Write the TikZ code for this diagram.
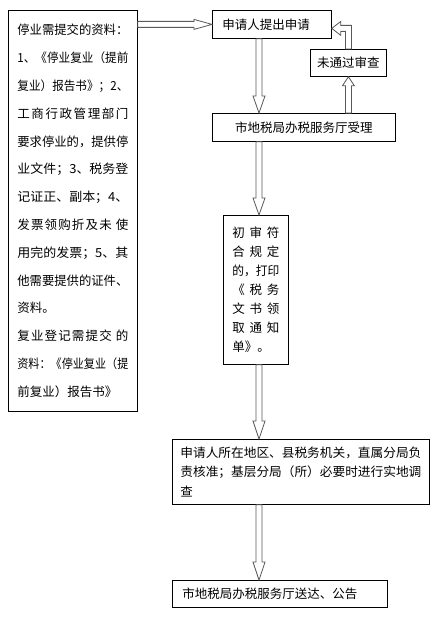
\documentclass[tikz,border=0pt]{standalone}
\usepackage{fontspec}
\usepackage{graphicx}
\newfontfamily\cjk{Noto Sans CJK SC}
\usetikzlibrary{calc}
\newcommand{\fitw}[2]{\resizebox{#1}{\height}{#2}}
\begin{document}
\begin{tikzpicture}[x=1pt,y=-1pt,
  box/.style={draw=black, line width=0.8pt, inner sep=0pt, font=\cjk\fontsize{12.5}{15}\selectfont},
  arrowbox/.style={draw=gray!70!black, fill=white, line width=0.8pt, line join=miter},
  blk/.style args={#1/#2}{to path={
    let \p1=(\tikztostart), \p2=(\tikztotarget), \n1={atan2(\y2-\y1,\x2-\x1)},
        \p3=($(\p2)+(\n1+180:#1)$) in
    ($(\p1)+(\n1+90:3pt)$) -- ($(\p3)+(\n1+90:3pt)$) -- ($(\p3)+(\n1+90:#2)$) -- (\p2)
    -- ($(\p3)+(\n1-90:#2)$) -- ($(\p3)+(\n1-90:3pt)$) -- ($(\p1)+(\n1-90:3pt)$) -- cycle}}]
\useasboundingbox[fill=white] (0,0) rectangle (434,618);

\node[box, anchor=north west, minimum width=129pt, minimum height=401pt,
  align=left, text width=111pt, font=\cjk\fontsize{12.5}{27.8}\selectfont] (mat) at (8,10) {%
\fitw{111pt}{停业需提交的资料：}\\
\fitw{111pt}{1、《停业复业（提前}\\
\fitw{111pt}{复业）报告书》；2、}\\
\makebox[111pt][l]{工\hfill 商\hfill 行\hfill 政\hfill 管\hfill 理\hfill 部\hfill 门}\\
\fitw{111pt}{要求停业的，提供停}\\
\fitw{111pt}{业文件；3、税务登}\\
\fitw{111pt}{记证正、副本；4、}\\
\makebox[111pt][l]{发\hfill 票\hfill 领\hfill 购\hfill 折\hfill 及\hfill 未\hspace{3pt}\hfill 使}\\
\fitw{111pt}{用完的发票；5、其}\\
\fitw{111pt}{他需要提供的证件、}\\
资料。\\
\makebox[111pt][l]{复\hfill 业\hfill 登\hfill 记\hfill 需\hfill 提\hfill 交\hspace{3pt}\hfill 的}\\
\fitw{111pt}{资料：《停业复业（提}\\
\fitw{100pt}{前复业）报告书》}};

\node[box, anchor=north west, minimum width=119pt, minimum height=28pt] (req) at (212,10)
  {\makebox[99pt][l]{申请人提出申请}};
\node[box, anchor=north west, minimum width=76pt, minimum height=27pt] (fail) at (310,49) {未通过审查};
\node[box, anchor=north west, minimum width=183pt, minimum height=28pt] (acc) at (212,113) {市地税局办税服务厅受理};

\node[box, anchor=north west, minimum width=65pt, minimum height=149pt,
  align=left, text width=47pt, font=\cjk\fontsize{12.5}{19}\selectfont] (chk) at (223,215) {%
\makebox[47pt][l]{初\hfill 审\hfill 符}\\
\makebox[47pt][l]{合\hfill 规\hfill 定}\\
\fitw{47pt}{的，打印}\\
\makebox[47pt][l]{《\hfill 税\hfill 务}\\
\makebox[47pt][l]{文\hfill 书\hfill 领}\\
\makebox[47pt][l]{取\hfill 通\hfill 知}\\
单》。};

\node[box, anchor=north west, minimum width=257pt, minimum height=65pt,
  align=left, text width=241pt, font=\cjk\fontsize{12.5}{19.5}\selectfont] (rev) at (172,439) {%
\fitw{241pt}{申请人所在地区、县税务机关，直属分局负}\\
\fitw{241pt}{责核准；基层分局（所）必要时进行实地调}\\
查};

\node[box, anchor=north west, minimum width=215pt, minimum height=27pt] (pub) at (172,580)
  {\makebox[195pt][l]{市地税局办税服务厅送达、公告}};

\coordinate (col) at (259,0);
\draw[arrowbox, blk=18pt/5pt] (mat.east |- req.west) to (req.west);
\draw[arrowbox, blk=17pt/6pt] (req.south -| col) to (acc.north -| col);
\draw[arrowbox, blk=9pt/6pt] (acc.north -| fail.south) to (fail.south);
\draw[arrowbox, blk=17pt/6pt] (acc.south -| col) to (chk.north -| col);
\draw[arrowbox, blk=18pt/6pt] (chk.south -| col) to (rev.north -| col);
\draw[arrowbox, blk=18pt/6pt] (rev.south -| col) to (pub.north -| col);
% bent arrow from the failed check back to the application
\draw[arrowbox] let \p1=(fail.north), \p2=($(req.east)+(0,4)$) in
  (\x1-3pt,\y1) -- (\x1-3pt,\y2-3pt) -- (\x2+9pt,\y2-3pt) -- (\x2+9pt,\y2-7pt) -- (\p2)
  -- (\x2+9pt,\y2+7pt) -- (\x2+9pt,\y2+3pt) -- (\x1+3pt,\y2+3pt) -- (\x1+3pt,\y1) -- cycle;
\end{tikzpicture}
\end{document}
